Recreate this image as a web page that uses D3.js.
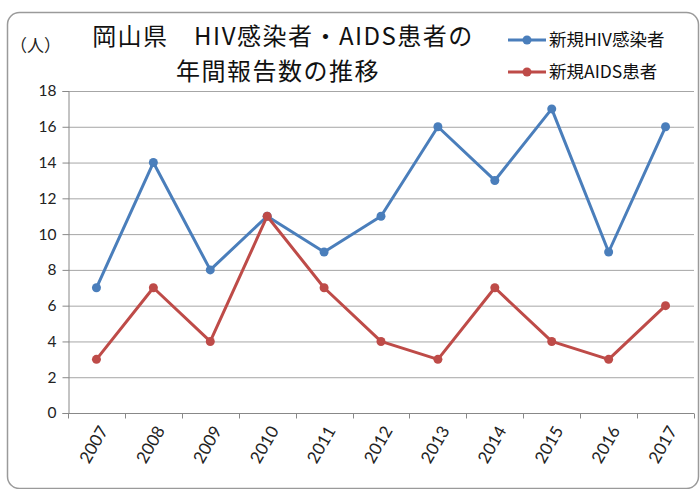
<!DOCTYPE html>
<html>
<head>
<meta charset="utf-8">
<script src="https://cdn.jsdelivr.net/npm/d3@7"></script>
<style>
  body { margin: 0; background: #fff; }
  svg { display: block; }
</style>
</head>
<body>
<svg width="700" height="489"></svg>
<script>
// data
var years = ["2007", "2008", "2009", "2010", "2011", "2012", "2013", "2014", "2015", "2016", "2017"];
var hivCases = [7, 14, 8, 11, 9, 11, 16, 13, 17, 9, 16];
var aidsCases = [3, 7, 4, 11, 7, 4, 3, 7, 4, 3, 6];
var yTicks = [0, 2, 4, 6, 8, 10, 12, 14, 16, 18];
var seriesNames = ["新規HIV感染者", "新規AIDS患者"];
var seriesColors = ["#4a7ebb", "#be4b48"];

var svg = d3.select("svg");
var margin = {top: 91, left: 68, right: 6, bottom: 76};
var width = 700 - margin.left - margin.right,
    height = 489 - margin.top - margin.bottom;

var jpFont = "'Noto Sans CJK JP', sans-serif";
var numFont = "Lato, 'Open Sans', sans-serif";

// outer frame
svg.append("rect")
  .attr("x", 7.5).attr("y", 12.5)
  .attr("width", 691).attr("height", 476)
  .attr("rx", 12).attr("ry", 12)
  .attr("fill", "#fff")
  .attr("stroke", "#9a9a9a")
  .attr("stroke-width", 1.5);

var x = d3.scaleBand()
  .domain(years)
  .range([0, width]);

var y = d3.scaleLinear()
  .domain([0, 18])
  .range([height, 0]);

var chart = svg.append("g")
  .attr("transform", "translate(" + margin.left + "," + margin.top + ")");

// gridlines
chart.append("g")
  .selectAll("line")
  .data(yTicks.slice(1))
  .enter()
  .append("line")
  .attr("x1", 0).attr("x2", width)
  .attr("y1", function(d) { return y(d) + 0.5; })
  .attr("y2", function(d) { return y(d) + 0.5; })
  .attr("stroke", "#a6a6a6")
  .attr("stroke-width", 1);

// y axis
var yAxis = chart.append("g")
  .attr("transform", "translate(0.5,0)")
  .call(d3.axisLeft(y).tickValues(yTicks).tickSize(6).tickPadding(6));
yAxis.selectAll("line, path").attr("stroke", "#888");
yAxis.selectAll("text")
  .attr("fill", "#222")
  .style("font-family", numFont)
  .style("font-size", "15.5px");

// x axis, ticks on band edges
var edges = years.map(function(d) { return x(d); }).concat([width]);
var xAxis = chart.append("g")
  .attr("transform", "translate(0," + (height + 0.5) + ")");
xAxis.append("line")
  .attr("x1", 0).attr("x2", width)
  .attr("stroke", "#888");
xAxis.selectAll(".edge")
  .data(edges)
  .enter()
  .append("line")
  .attr("class", "edge")
  .attr("x1", function(d) { return Math.round(d) + 0.5; })
  .attr("x2", function(d) { return Math.round(d) + 0.5; })
  .attr("y1", 0).attr("y2", 5)
  .attr("stroke", "#888");
xAxis.selectAll(".lbl")
  .data(years)
  .enter()
  .append("text")
  .attr("class", "lbl")
  .attr("text-anchor", "end")
  .attr("transform", function(d) {
    return "translate(" + (x(d) + x.bandwidth() / 2 + 7) + ",14)rotate(-60)";
  })
  .attr("dy", "0.35em")
  .attr("fill", "#222")
  .style("font-family", numFont)
  .style("font-size", "17px")
  .text(function(d) { return d; });

// series lines and markers
var series = [hivCases, aidsCases];
var line = d3.line()
  .x(function(d, i) { return x(years[i]) + x.bandwidth() / 2; })
  .y(function(d) { return y(d); });

series.forEach(function(vals, k) {
  chart.append("path")
    .datum(vals)
    .attr("d", line)
    .attr("fill", "none")
    .attr("stroke", seriesColors[k])
    .attr("stroke-width", 3)
    .attr("stroke-linejoin", "round");
  chart.selectAll(null)
    .data(vals)
    .enter()
    .append("circle")
    .attr("cx", function(d, i) { return x(years[i]) + x.bandwidth() / 2; })
    .attr("cy", function(d) { return y(d); })
    .attr("r", 4.5)
    .attr("fill", seriesColors[k]);
});

// title
var title = svg.append("text")
  .attr("text-anchor", "middle")
  .attr("fill", "#111")
  .style("font-family", jpFont)
  .style("font-size", "24px")
  .style("letter-spacing", "1.5px");
title.append("tspan").attr("x", 283).attr("y", 45).text("岡山県　HIV感染者・AIDS患者の");
title.append("tspan").attr("x", 278).attr("y", 80).text("年間報告数の推移");

// unit label
svg.append("text")
  .attr("x", 10).attr("y", 52)
  .attr("fill", "#222")
  .style("font-family", jpFont)
  .style("font-size", "17px")
  .text("（人）");

// legend
var legend = svg.selectAll(".legend")
  .data(seriesNames)
  .enter()
  .append("g")
  .attr("class", "legend")
  .attr("transform", function(d, i) { return "translate(508," + (40 + i * 32) + ")"; });
legend.append("line")
  .attr("x1", 0).attr("x2", 38)
  .attr("stroke", function(d, i) { return seriesColors[i]; })
  .attr("stroke-width", 3);
legend.append("circle")
  .attr("cx", 19).attr("r", 4.5)
  .attr("fill", function(d, i) { return seriesColors[i]; });
legend.append("text")
  .attr("x", 41)
  .attr("dy", "0.36em")
  .attr("fill", "#111")
  .style("font-family", jpFont)
  .style("font-size", "17.5px")
  .text(function(d) { return d; });
</script>
</body>
</html>
